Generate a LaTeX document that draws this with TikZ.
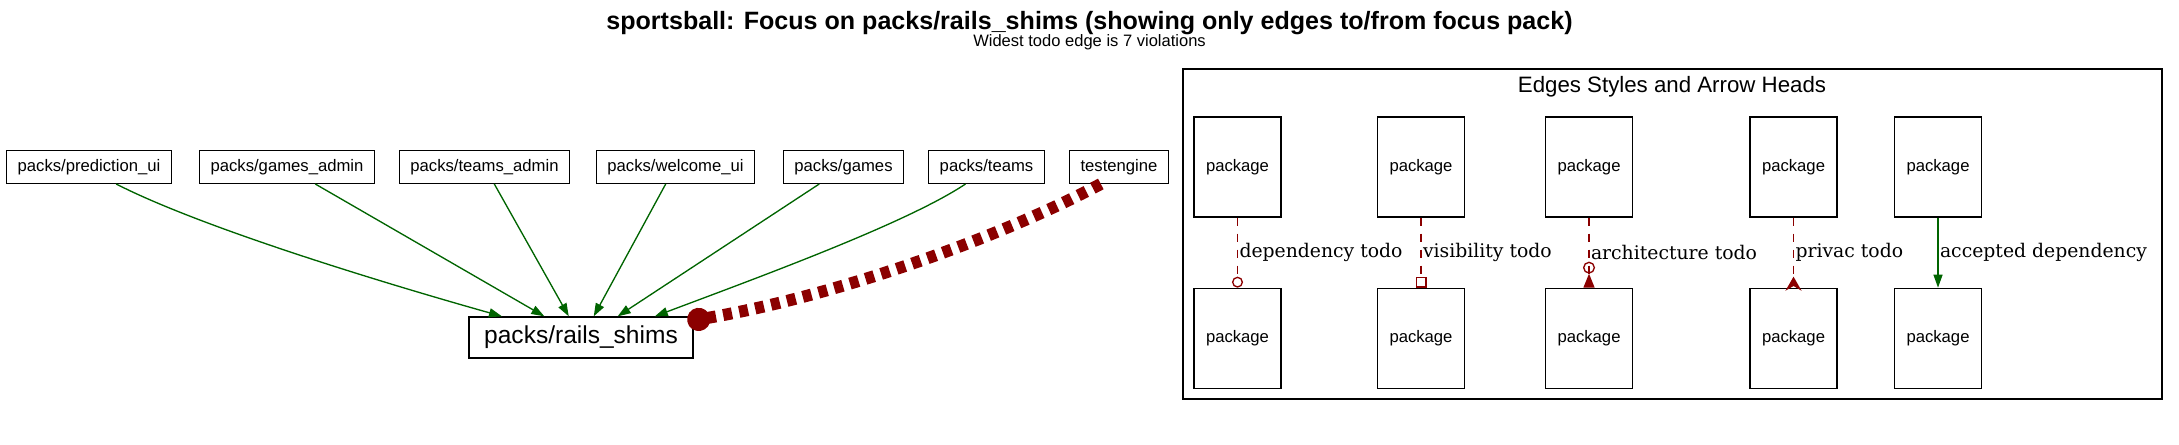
\documentclass[tikz,border=0pt]{standalone}
\usepackage{fontspec}
\setmainfont{Liberation Sans}
\newfontfamily\edgefont{DejaVu Serif}
\usetikzlibrary{arrows.meta,positioning,calc}
\definecolor{todored}{HTML}{8B0000}
\definecolor{okgreen}{HTML}{006400}
\tikzstyle{pack}=[
        draw = black,
        line width = 1pt,
        fill = white,
        minimum height = 24.45pt,
        inner xsep = 8.25pt,
        font = \fontsize{12.5}{15}\selectfont,
        rectangle
    ]
\tikzstyle{legend pack}=[
        draw = black,
        line width = 1pt,
        fill = white,
        minimum width = 65.25pt,
        minimum height = 75pt,
        font = \fontsize{12.5}{15}\selectfont,
        rectangle
    ]

\begin{document}
\begin{tikzpicture}[x=0.75pt, y=-0.75pt,
        ok/.style = {draw = okgreen, line width = 1pt, -{Triangle[length=9.75pt, width=6.75pt]}},
        todo/.style = {draw = todored, line width = 1pt, dash pattern = on 6pt off 6pt},
        heavy/.style = {draw = todored, line width = 9pt, dash pattern = on 6.75pt off 5.5pt, -{Circle[length=17.25pt]}},
        lbl/.style = {font = \edgefont\fontsize{14.1}{17}\selectfont, inner xsep = 1pt, text = black}]
        \useasboundingbox (0,0) rectangle (2179,444);

        \node[font=\bfseries\fontsize{18.8}{22}\selectfont, anchor=base] (TT) at (1089.5,29.3) {sportsball: Focus on packs/rails\_shims (showing only edges to/from focus pack)};
        \node[font=\fontsize{12.4}{15}\selectfont, anchor=base] (ST) at (1089.5,46.7) {Widest todo edge is 7 violations};

        \node[pack] (PU) at (89,167) {packs/prediction\_ui};
        \node[pack] (GA) at (287,167) {packs/games\_admin};
        \node[pack] (TA) at (484.5,167) {packs/teams\_admin};
        \node[pack] (WU) at (675.5,167) {packs/welcome\_ui};
        \node[pack] (G) at (843.5,167) {packs/games};
        \node[pack] (T) at (986.5,167) {packs/teams};
        \node[pack] (TE) at (1119,167) {testengine};
        \node[pack, minimum width=168pt, minimum height=30.75pt, font=\fontsize{18.4}{22}\selectfont] (RS) at (581,337.5) {packs/rails\_shims};

        \draw[ok] (PU.-32) .. controls (200,227) and (380,282) .. (RS.165.8);
        \draw[ok] (GA.-31) -- (RS.150.3);
        \draw[ok] (TA.-60) -- (RS.120.3);
        \draw[ok] (WU.-120) -- (RS.59.7);
        \draw[ok] (G.-145.3) -- (RS.30.4);
        \draw[ok] (T.-141.5) .. controls (907,223) and (762,276) .. (RS.16.1);
        \draw[heavy] (TE.-137.8) .. controls (1001,237) and (837,296) .. ($(RS.north east)+(-6.3,5)$);

        \draw[line width=1pt] (1183,69) rectangle (2162,399);
        \node[font=\fontsize{16.7}{20}\selectfont, anchor=base] (LT) at (1672,92) {Edges Styles and Arrow Heads};

        \node[legend pack] (A1) at (1237.5,167) {package};
        \node[legend pack] (A2) at (1421,167) {package};
        \node[legend pack] (A3) at (1589,167) {package};
        \node[legend pack] (A4) at (1793.5,167) {package};
        \node[legend pack] (A5) at (1938,167) {package};
        \node[legend pack] (B1) [below=52.5pt of A1] {package};
        \node[legend pack] (B2) [below=52.5pt of A2] {package};
        \node[legend pack] (B3) [below=52.5pt of A3] {package};
        \node[legend pack] (B4) [below=52.5pt of A4] {package};
        \node[legend pack] (B5) [below=52.5pt of A5] {package};

        \draw[todo, -{Circle[open, length=8.25pt]}] (A1) -- (B1) node [lbl, midway, right] {dependency todo};
        \draw[todo, -{Square[open, length=8.25pt, width=8.25pt]}] (A2) -- (B2) node [lbl, midway, right] {visibility todo};
        \draw[todo, -{Circle[open, length=9pt] Triangle[reversed, length=10.5pt, width=8.25pt]}] (A3) -- (B3) node [lbl, midway, right] {architecture todo};
        \draw[todo, shorten >=-2.25pt, -{Stealth[reversed, length=10.5pt, width=12pt, inset=3.5pt]}] (A4) -- (B4) node [lbl, midway, right] {privac todo};
        \draw[ok] (A5) -- (B5) node [lbl, midway, right] {accepted dependency};
    \end{tikzpicture}
\end{document}
